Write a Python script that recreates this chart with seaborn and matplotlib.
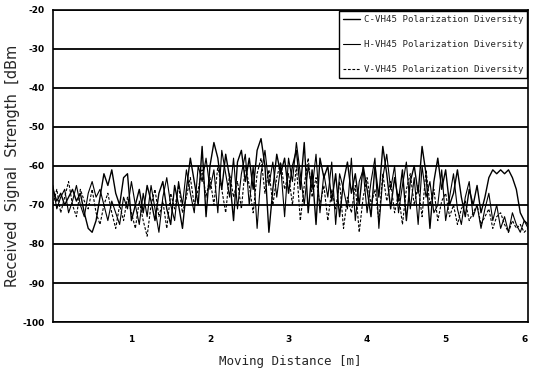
import numpy as np
import pandas as pd
import matplotlib
matplotlib.use("Agg")
import matplotlib.pyplot as plt
import seaborn as sns

# Moving distance step (m) and series values (dBm)
distance = [round(0.05 * i, 2) for i in range(122)]

c_vh45 = [-66, -69, -67, -70, -68, -66, -69, -67, -72, -76,
          -77, -74, -68, -62, -65, -61, -67, -70, -63, -62,
          -74, -70, -66, -72, -65, -69, -74, -67, -64, -71,
          -75, -65, -70, -76, -66, -58, -64, -70, -55, -73,
          -60, -54, -58, -66, -57, -63, -74, -59, -56, -64,
          -58, -66, -56, -53, -60, -77, -66, -57, -62, -58,
          -67, -60, -56, -66, -54, -72, -61, -75, -58, -63,
          -60, -69, -62, -73, -64, -59, -67, -62, -70, -60,
          -66, -73, -60, -68, -55, -62, -71, -63, -69, -61,
          -74, -64, -60, -67, -55, -62, -76, -64, -58, -66,
          -61, -70, -67, -61, -68, -73, -66, -70, -65, -72,
          -68, -63, -61, -62, -61, -62, -61, -63, -66, -72,
          -74, -75]

h_vh45 = [-65, -71, -68, -66, -72, -69, -65, -70, -73, -67,
          -64, -68, -66, -70, -74, -69, -72, -75, -68, -71,
          -64, -70, -75, -67, -73, -65, -71, -77, -68, -63,
          -70, -74, -64, -70, -61, -67, -72, -60, -64, -58,
          -66, -61, -72, -56, -62, -68, -58, -71, -62, -57,
          -70, -60, -76, -62, -56, -65, -59, -68, -60, -73,
          -58, -64, -54, -62, -70, -60, -66, -57, -72, -62,
          -68, -59, -75, -62, -66, -71, -58, -74, -64, -61,
          -72, -64, -58, -76, -63, -57, -66, -60, -72, -65,
          -59, -71, -63, -75, -60, -68, -64, -72, -70, -61,
          -74, -68, -62, -71, -75, -68, -64, -73, -70, -76,
          -71, -67, -74, -70, -76, -73, -77, -72, -75, -77,
          -74, -76]

v_vh45 = [-70, -66, -72, -68, -64, -70, -73, -66, -69, -71,
          -66, -72, -75, -70, -67, -72, -76, -70, -74, -68,
          -72, -76, -69, -74, -78, -70, -66, -73, -69, -76,
          -67, -71, -65, -72, -68, -63, -70, -66, -61, -68,
          -63, -70, -60, -66, -72, -62, -68, -64, -71, -60,
          -65, -72, -62, -58, -67, -61, -70, -63, -59, -66,
          -62, -70, -60, -74, -65, -58, -68, -63, -70, -65,
          -74, -66, -71, -64, -76, -68, -72, -65, -77, -68,
          -63, -70, -66, -74, -62, -69, -64, -72, -67, -75,
          -66, -62, -70, -65, -73, -61, -70, -66, -74, -69,
          -67, -73, -70, -75, -71, -69, -74, -72, -70, -75,
          -73, -71, -76, -73, -72, -75, -77, -74, -76, -75,
          -77, -76]

series_names = ["C-VH45 Polarization Diversity",
                "H-VH45 Polarization Diversity",
                "V-VH45 Polarization Diversity"]
y_ticks = [-20, -30, -40, -50, -60, -70, -80, -90, -100]
x_ticks = [1, 2, 3, 4, 5, 6]

df = pd.concat([
    pd.DataFrame({"Distance": distance, "Signal": vals, "Series": name})
    for name, vals in zip(series_names, [c_vh45, h_vh45, v_vh45])
], ignore_index=True)

sns.set_style("white")
plt.rcParams["font.family"] = ["DejaVu Sans"]

fig = plt.figure(figsize=(5.34, 3.78), dpi=100)
ax = fig.add_axes([0.099, 0.148, 0.890, 0.826])

for yv in y_ticks:
    ax.axhline(yv, color="black", lw=1.3, zorder=1)

sns.lineplot(data=df, x="Distance", y="Signal", hue="Series", style="Series",
             palette=["black", "black", "black"],
             dashes={series_names[0]: "", series_names[1]: "",
                     series_names[2]: (2.5, 1.5)},
             ax=ax, legend=True, zorder=3, estimator=None)
for ln, lw in zip(ax.get_lines()[len(y_ticks):len(y_ticks) + 3], [1.0, 0.8, 0.8]):
    ln.set_linewidth(lw)

ax.set_xlim(0, 6.05)
ax.set_ylim(-100, -20)
ax.set_yticks(y_ticks)
ax.set_yticklabels([str(v) for v in y_ticks], fontsize=6.5, fontweight="bold")
ax.set_xticks(x_ticks)
ax.set_xticklabels([str(v) for v in x_ticks], fontsize=6.5, fontweight="bold")
ax.tick_params(axis="x", direction="in", length=3, width=0.8, pad=9, colors="black")
ax.tick_params(axis="y", direction="out", length=0, pad=6, colors="black")

for sp in ax.spines.values():
    sp.set_color("black")
    sp.set_linewidth(1.2)

ax.set_xlabel("Moving Distance [m]", fontsize=9, family="DejaVu Sans Mono", labelpad=8)
ax.set_ylabel("Received  Signal  Strength  [dBm", fontsize=10.5, labelpad=2)

leg = ax.legend(loc="upper right", frameon=True, fancybox=False,
                edgecolor="black", framealpha=1, borderpad=0.45,
                labelspacing=1.75, handlelength=1.8, handletextpad=0.4,
                borderaxespad=0.1,
                prop={"family": "DejaVu Sans Mono", "size": 6.6})
leg.get_frame().set_linewidth(1.0)
for h, lw in zip(leg.get_lines(), [1.0, 0.8, 0.8]):
    h.set_linewidth(lw)

fig.savefig("out.png", dpi=100)
